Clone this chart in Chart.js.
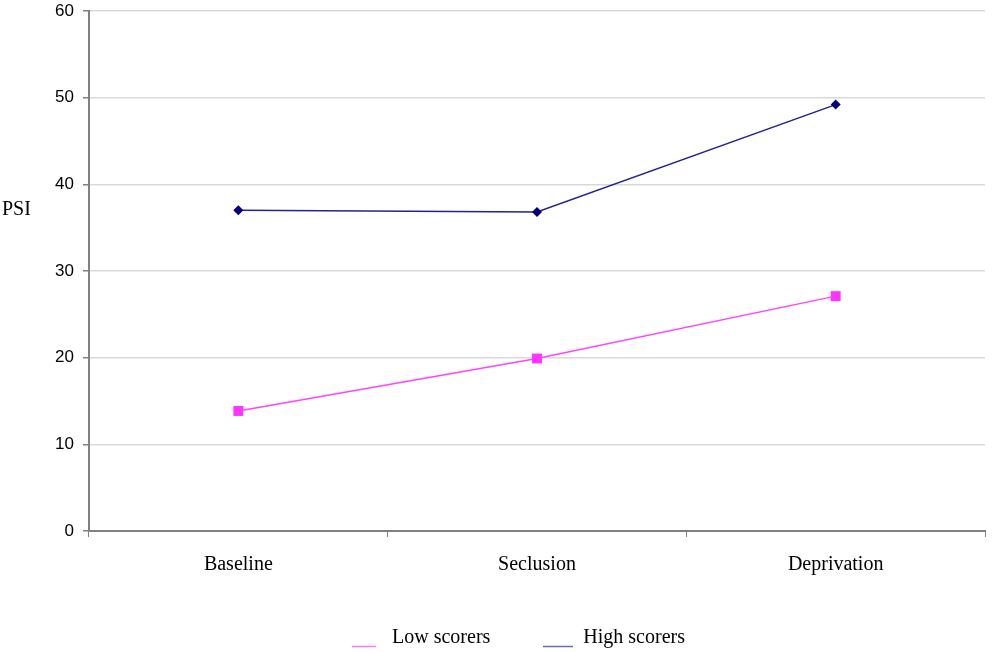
<!DOCTYPE html>
<html>
<head>
<meta charset="utf-8">
<script src="https://cdn.jsdelivr.net/npm/chart.js@4/dist/chart.umd.min.js"></script>
<style>
  html, body { margin: 0; padding: 0; background: #fff; }
  #wrap { width: 992px; height: 652px; }
</style>
</head>
<body>
<div id="wrap"><canvas id="myChart"></canvas></div>
<script>
const categories = ['Baseline', 'Seclusion', 'Deprivation'];
const lowScorers = [13.85, 19.9, 27.1];
const highScorers = [37.0, 36.8, 49.2];
const yTicks = [0, 10, 20, 30, 40, 50, 60];

// little line swatch for the legend, sitting near the text baseline
function swatch(color, len) {
    const c = document.createElement('canvas');
    c.width = 30;
    c.height = 22;
    const g = c.getContext('2d');
    g.strokeStyle = color;
    g.lineWidth = 1.5;
    g.beginPath();
    g.moveTo(0, 19.5);
    g.lineTo(len, 19.5);
    g.stroke();
    return c;
}
const swatches = [swatch('#ff77ff', 24), swatch('#6a6abf', 30)];

// horizontal "PSI" axis title + nudge the legend a bit right like the original
const psiTitle = {
    id: 'psiTitle',
    afterLayout(chart) {
        chart.legend.left += 26;
        chart.legend.right += 26;
    },
    afterDraw(chart) {
        const ctx = chart.ctx;
        const y = chart.scales.y;
        ctx.save();
        ctx.font = '20px "Liberation Serif"';
        ctx.fillStyle = '#000';
        ctx.textAlign = 'left';
        ctx.textBaseline = 'middle';
        ctx.fillText('PSI', 2, y.getPixelForValue(37.1));
        ctx.restore();
    }
};

const ctx = document.getElementById('myChart').getContext('2d');
const myChart = new Chart(ctx, {
    type: 'line',
    data: {
        labels: categories,
        datasets: [{
            label: 'Low scorers',
            data: lowScorers,
            borderColor: '#ff44ff',
            backgroundColor: '#ff33ff',
            borderWidth: 1.5,
            pointStyle: 'rect',
            pointRadius: 7,
            pointBorderWidth: 0,
            tension: 0,
        }, {
            label: 'High scorers',
            data: highScorers,
            borderColor: '#23238c',
            backgroundColor: '#000080',
            borderWidth: 1.5,
            pointStyle: 'rectRot',
            pointRadius: 5,
            pointBorderWidth: 0,
            tension: 0,
        }]
    },
    options: {
        responsive: true,
        maintainAspectRatio: false,
        animation: false,
        layout: {
            padding: { left: 0, right: 7, top: 0, bottom: 0 }
        },
        scales: {
            x: {
                offset: true,
                grid: {
                    offset: true,
                    drawOnChartArea: false,
                    drawTicks: true,
                    tickLength: 6,
                    tickColor: '#808080',
                },
                border: { color: '#808080', width: 2 },
                ticks: {
                    color: '#000',
                    font: { family: '"Liberation Serif"', size: 20 },
                    padding: 16,
                },
                afterFit(scale) { scale.height = 44; },
            },
            y: {
                min: 0,
                max: 60,
                afterBuildTicks(scale) {
                    scale.ticks = yTicks.map(v => ({ value: v }));
                },
                grid: {
                    color: '#d9d9d9',
                    lineWidth: 1.5,
                    tickLength: 6,
                    tickColor: '#808080',
                },
                border: { color: '#808080', width: 2 },
                ticks: {
                    color: '#000',
                    font: { family: '"Liberation Sans"', size: 17 },
                    padding: 9,
                },
                afterFit(scale) {
                    scale.width = 89;
                    scale.paddingTop = 11;
                },
            },
        },
        plugins: {
            legend: {
                position: 'bottom',
                maxHeight: 77,
                labels: {
                    usePointStyle: true,
                    pointStyleWidth: 30,
                    color: '#000',
                    font: { family: '"Liberation Serif"', size: 20 },
                    padding: 53,
                    generateLabels(chart) {
                        const items = Chart.defaults.plugins.legend.labels.generateLabels(chart);
                        items.forEach((it, i) => { it.pointStyle = swatches[i]; });
                        return items;
                    },
                },
            },
            tooltip: { enabled: false },
        }
    },
    plugins: [psiTitle]
});
</script>
</body>
</html>
